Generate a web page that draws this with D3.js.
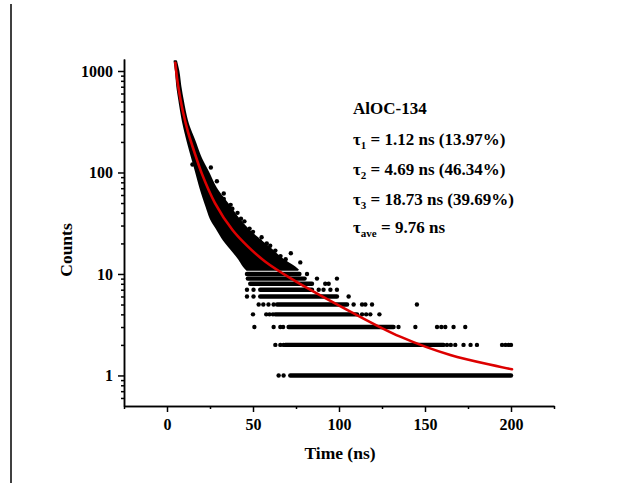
<!DOCTYPE html>
<html>
<head>
<meta charset="utf-8">
<script src="https://cdn.jsdelivr.net/npm/d3@7"></script>
<style>
  body { margin: 0; background: #fff; }
  svg text { font-family: "Liberation Serif", "Times New Roman", serif; font-weight: bold; fill: #000; }
</style>
</head>
<body>
<div id="chart"></div>
<script>
// fitted curve (red)
const fitT      = [4.83, 5.81, 7.27, 9.3, 12.2, 15.7, 20.2, 27.9, 38.1, 47.1, 57.2, 71.7, 106.6, 135.6, 164.7, 200.6];
const fitCounts = [1207, 853, 593, 394, 251, 163, 98, 50, 27.1, 18.6, 13.2, 9.1, 4.26, 2.41, 1.59, 1.15];

// dense part of the decay: time extent of the black cloud at each count level
const bandCounts = [1250, 1000, 700, 500, 300, 200, 140, 100, 70, 46, 35, 27, 21.6, 17.2, 14, 12, 11];
const bandTMin   = [4.4, 5.2, 6.0, 7.3, 9.6, 12.1, 14.6, 17, 19.5, 23, 25.5, 29.5, 33, 37.8, 42, 44.5, 46.5];
const bandTMax   = [5.3, 6.6, 7.8, 9.3, 12.2, 16.2, 19.6, 24, 28.5, 36.5, 41.5, 47.5, 54, 61, 67, 73, 76];

// low counts: solid runs of points per integer count
const rowCounts = [10, 9, 8, 7, 6, 5, 4, 3, 2, 1];
const rowStart  = [46.5, 47, 48.4, 54.2, 54.2, 64, 63, 70.7, 68.8, 71.7];
const rowEnd    = [77, 80, 84.3, 84.3, 98.8, 104.7, 110.5, 131.7, 160.8, 200];

// single points
const dotT = [
  54, 60, 63, 66, 72, 77.5, 69, 48, 43, 38, 33, 29, 25.5,
  37, 41, 45, 50, 55, 58, 33, 14.8,
  81.4, 87.2, 98.8, 92, 94,
  46.5, 50.3, 88.2, 91, 95, 98.8,
  46.5, 50.3, 105.6,
  53.3, 56, 59, 62, 108.5, 113.4, 115.3, 119.2, 145.3,
  50, 57.7, 59.6, 61.6, 113.4, 115.8, 118.2, 123.5,
  50.8, 62, 65.9, 67.5, 134.6, 144.4, 157, 159.5, 161.8, 166.6, 173.4,
  63, 65.9, 67.8, 162.8, 165, 167.6, 172.4, 176.5, 180.2, 194.8, 196.8, 198.6, 200,
  64.9, 67.8
];
const dotCounts = [
  21, 19, 17, 15, 16, 13, 14, 28, 35, 44, 62, 82, 112,
  48, 40, 33, 26, 23, 20, 55, 120,
  10, 9, 9, 8, 8,
  7, 7, 7, 7, 7, 7,
  6, 6, 6,
  5, 5, 5, 5, 5, 5, 5, 5, 5,
  4, 4, 4, 4, 4, 4, 4, 4,
  3, 3, 3, 3, 3, 3, 3, 3, 3, 3, 3,
  2, 2, 2, 2, 2, 2, 2, 2, 2, 2, 2, 2, 2,
  1, 1
];

const xMajor = [0, 50, 100, 150, 200];
const xMinor = [-25, 25, 75, 125, 175, 225];
const yMajor = [1, 10, 100, 1000];

const annoLines = [
  { main: "AlOC-134" },
  { main: "\u03c4", sub: "1", rest: " = 1.12 ns (13.97%)" },
  { main: "\u03c4", sub: "2", rest: " = 4.69 ns (46.34%)" },
  { main: "\u03c4", sub: "3", rest: " = 18.73 ns (39.69%)" },
  { main: "\u03c4", sub: "ave", rest: " = 9.76 ns" }
];

const width = 627, height = 483;
const margin = { top: 59, right: 73, bottom: 77, left: 124 };

const svg = d3.select("#chart").append("svg")
  .attr("width", width)
  .attr("height", height);

// page border on the left
svg.append("line")
  .attr("x1", 11).attr("x2", 11)
  .attr("y1", 4).attr("y2", height)
  .attr("stroke", "#000").attr("stroke-width", 1.5);

const x = d3.scaleLinear().domain([-25, 225]).range([margin.left, width - margin.right]);
const y = d3.scaleLog().domain([0.5, 1313]).range([height - margin.bottom, margin.top]);

let yMinor = [];
[0.1, 1, 10, 100].forEach(dec => {
  for (let k = 2; k <= 9; k++) {
    let v = dec * k;
    if (v > 0.5 && v < 1313 && !yMajor.includes(v)) yMinor.push(v);
  }
});

// data
const data = svg.append("g");

const band = bandCounts.map((c, i) => ({ c: c, t0: bandTMin[i], t1: bandTMax[i] }));
data.append("path")
  .datum(band)
  .attr("d", d3.area()
    .y(d => y(d.c))
    .x0(d => x(d.t0))
    .x1(d => x(d.t1))
    .curve(d3.curveMonotoneY))
  .attr("fill", "#000")
  .attr("stroke", "#000")
  .attr("stroke-width", 2)
  .attr("stroke-linejoin", "round");

data.selectAll("line.row")
  .data(rowCounts)
  .enter()
  .append("line")
  .attr("class", "row")
  .attr("x1", (d, i) => x(rowStart[i]))
  .attr("x2", (d, i) => x(rowEnd[i]))
  .attr("y1", d => y(d))
  .attr("y2", d => y(d))
  .attr("stroke", "#000")
  .attr("stroke-width", 4.4)
  .attr("stroke-linecap", "round");

data.selectAll("circle")
  .data(dotT)
  .enter()
  .append("circle")
  .attr("cx", d => x(d))
  .attr("cy", (d, i) => y(dotCounts[i]))
  .attr("r", 2.2)
  .attr("fill", "#000");

// fit
const fit = fitT.map((t, i) => [t, fitCounts[i]]);
svg.append("path")
  .datum(fit)
  .attr("d", d3.line()
    .x(d => x(d[0]))
    .y(d => y(d[1]))
    .curve(d3.curveCatmullRom))
  .attr("fill", "none")
  .attr("stroke", "#dd0000")
  .attr("stroke-width", 2.6)
  .attr("stroke-linecap", "round");

// axes
function styleAxis(g) {
  g.selectAll("path, line").attr("stroke", "#000").attr("stroke-width", 1.5);
  g.selectAll("text").style("font-size", "16px").attr("fill", "#000");
}

const xAxisG = svg.append("g")
  .attr("transform", "translate(0," + (height - margin.bottom) + ")");
xAxisG.append("g")
  .call(d3.axisBottom(x).tickValues(xMinor).tickSize(3).tickFormat("").tickSizeOuter(0))
  .call(styleAxis);
xAxisG.append("g")
  .call(d3.axisBottom(x).tickValues(xMajor).tickSize(6).tickPadding(7).tickSizeOuter(0))
  .call(styleAxis);

const yAxisG = svg.append("g")
  .attr("transform", "translate(" + margin.left + ",0)");
yAxisG.append("g")
  .call(d3.axisLeft(y).tickValues(yMinor).tickSize(3).tickFormat("").tickSizeOuter(0))
  .call(styleAxis);
yAxisG.append("g")
  .call(d3.axisLeft(y).tickValues(yMajor).tickSize(6).tickPadding(5).tickFormat(d3.format("d")).tickSizeOuter(0))
  .call(styleAxis);

svg.append("text")
  .attr("x", 340)
  .attr("y", 459)
  .attr("text-anchor", "middle")
  .style("font-size", "17.5px")
  .text("Time (ns)");

svg.append("text")
  .attr("transform", "translate(72,250) rotate(-90)")
  .attr("text-anchor", "middle")
  .style("font-size", "17.5px")
  .text("Counts");

// annotation
const annoY = [114.3, 145, 175, 205, 233.3];
const anno = svg.append("g");
annoLines.forEach((ln, i) => {
  let t = anno.append("text")
    .attr("x", 353)
    .attr("y", annoY[i])
    .style("font-size", "17px");
  t.append("tspan").text(ln.main);
  if (ln.sub) {
    t.append("tspan").attr("dy", 4).style("font-size", "11px").text(ln.sub);
    t.append("tspan").attr("dy", -4).text(ln.rest);
  }
});
</script>
</body>
</html>
